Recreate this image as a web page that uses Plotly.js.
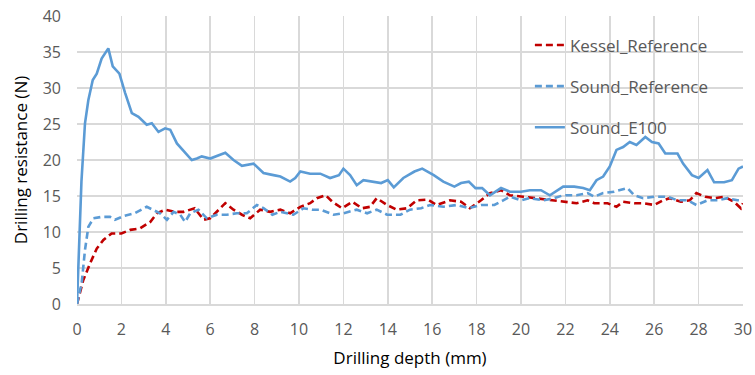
<!DOCTYPE html>
<html><head><meta charset="utf-8">
<script src="https://cdn.plot.ly/plotly-3.0.1.min.js"></script>
<style>html,body{margin:0;padding:0;background:#fff}#chart{width:755px;height:375px}</style>
</head><body><div id="chart"></div>
<script>
const seriesNames = ["Kessel_Reference", "Sound_Reference", "Sound_E100"];

const kesselX = [0,0.28,0.59,0.89,1.19,1.56,2.0,2.4,2.84,3.3,3.6,3.97,4.42,4.8,5.3,5.7,6.0,6.3,6.68,7.05,7.43,7.8,8.25,8.7,9.16,9.6,10.06,10.5,10.8,11.2,11.5,11.94,12.4,12.84,13.2,13.5,13.97,14.4,14.87,15.3,15.5,15.8,16.2,16.8,17.3,17.7,18.2,18.6,19.1,19.5,20.1,20.7,21.3,21.9,22.5,23.0,23.3,23.9,24.3,24.6,25.1,25.5,26.0,26.4,26.7,27.2,27.6,27.9,28.3,28.7,29.15,29.6,29.9,30];
const kesselY = [0,3.3,5.65,7.7,8.9,9.8,9.8,10.3,10.5,11.4,12.6,13.1,12.8,12.8,13.3,11.7,11.9,12.8,14.0,13.1,12.4,11.9,13.1,12.8,13.1,12.6,13.5,14.0,14.7,15.1,14.2,13.3,14.2,13.3,13.5,14.7,13.75,13.1,13.3,14.4,14.4,14.5,13.75,14.4,14.2,13.3,14.4,15.4,15.8,15.1,14.9,14.7,14.4,14.2,14.0,14.4,14.0,14.0,13.5,14.2,14.0,14.0,13.75,14.4,14.7,14.2,14.4,15.4,14.9,14.7,14.9,14.2,13.3,14.0];

const soundRefX = [0,0.21,0.36,0.51,0.74,1.11,1.49,1.71,2.09,2.6,3.14,3.44,3.74,4.05,4.35,4.65,4.87,5.1,5.47,5.85,6.3,6.75,7.2,7.65,8.1,8.4,8.8,9.16,9.75,10.2,10.6,10.96,11.56,12.0,12.6,13.07,13.5,13.97,14.57,15.0,15.5,15.9,16.5,17.1,17.65,18.2,18.8,19.2,19.5,20.0,20.4,21.0,21.5,21.9,22.5,23.0,23.3,23.7,24.2,24.8,25.1,25.5,26.0,26.6,27.05,27.5,27.9,28.4,28.85,29.3,29.75,30];
const soundRefY = [0,2.9,7.5,10.7,11.9,12.1,12.1,11.7,12.2,12.6,13.5,13.1,12.6,11.7,12.8,12.4,11.4,12.6,13.1,11.9,12.4,12.4,12.6,12.6,13.75,13.3,12.4,12.8,12.4,13.3,13.1,13.1,12.4,12.6,13.1,12.6,13.1,12.4,12.4,13.1,13.3,13.75,13.5,13.75,13.3,13.75,13.75,14.4,14.9,14.4,14.7,14.4,14.7,15.1,15.1,15.4,14.9,15.4,15.6,16.1,15.1,14.7,14.9,14.9,14.4,14.4,13.75,14.4,14.4,14.7,14.4,14.4];

const e100X = [0,0.2,0.36,0.51,0.71,0.89,1.11,1.41,1.61,1.91,2.17,2.47,2.77,3.14,3.37,3.67,3.97,4.2,4.5,4.8,5.17,5.4,5.62,6.0,6.38,6.68,7.05,7.43,7.95,8.4,8.85,9.16,9.6,9.83,10.06,10.5,10.96,11.4,11.8,12.0,12.3,12.6,12.9,13.4,13.7,14.0,14.27,14.7,15.2,15.55,16.07,16.5,17.0,17.3,17.65,17.95,18.25,18.6,19.1,19.5,20.0,20.4,20.9,21.3,21.9,22.4,22.8,23.1,23.4,23.7,24.0,24.3,24.6,24.9,25.2,25.6,25.9,26.2,26.5,27.05,27.3,27.7,28.0,28.4,28.7,29.15,29.5,29.8,30];
const e100Y = [0,17,25.1,28.3,31.1,32.0,34.1,35.5,33.0,32.0,29.3,26.5,26.0,24.9,25.1,23.9,24.4,24.2,22.3,21.2,20.0,20.2,20.5,20.2,20.7,21.0,20.0,19.2,19.5,18.2,17.9,17.7,17.0,17.5,18.4,18.1,18.1,17.5,17.9,18.8,17.9,16.5,17.2,17.0,16.8,17.2,16.2,17.5,18.4,18.8,17.9,17.0,16.3,16.8,17.0,16.1,16.1,15.1,16.1,15.6,15.6,15.8,15.8,15.1,16.3,16.3,16.1,15.8,17.2,17.7,19.1,21.4,21.8,22.5,22.1,23.2,22.5,22.3,20.9,20.9,19.5,17.9,17.5,18.6,16.9,16.9,17.2,18.8,19.1];

const xTicks = [0,2,4,6,8,10,12,14,16,18,20,22,24,26,28,30];
const yTicks = [0,5,10,15,20,25,30,35,40];

const traces = [
  {x: kesselX, y: kesselY, name: seriesNames[0], legendgroup: "a", mode: "lines",
   line: {color: "#c00000", width: 2.6, dash: "7px,4px"}},
  {x: soundRefX, y: soundRefY, name: seriesNames[1], legendgroup: "b", mode: "lines",
   line: {color: "#5b9bd5", width: 2.6, dash: "7px,4px"}},
  {x: e100X, y: e100Y, name: seriesNames[2], legendgroup: "c", mode: "lines",
   line: {color: "#5b9bd5", width: 2.6}}
];

const layout = {
  width: 755, height: 375,
  margin: {l: 77, r: 12, t: 16, b: 71},
  paper_bgcolor: "#fff", plot_bgcolor: "#fff",
  font: {family: "'Open Sans', sans-serif", color: "#595959", size: 16},
  showlegend: true,
  legend: {x: 0.68, y: 0.96, xanchor: "left", yanchor: "top", bgcolor: "rgba(0,0,0,0)",
           font: {size: 17, color: "#595959"}, tracegroupgap: 16, traceorder: "grouped"},
  xaxis: {range: [0, 30], tickvals: xTicks, ticktext: xTicks.map(String),
          showgrid: true, gridcolor: "#d9d9d9", gridwidth: 1.5, zeroline: false,
          showline: true, linecolor: "#d9d9d9", linewidth: 1.5, ticks: "",
          ticklabelstandoff: 10,
          tickfont: {size: 16, color: "#595959"},
          title: {text: "Drilling depth (mm)", font: {size: 17, color: "#000"}, standoff: 13}},
  yaxis: {range: [0, 40], tickvals: yTicks, ticktext: yTicks.map(String),
          showgrid: true, gridcolor: "#d9d9d9", gridwidth: 1.5, zeroline: false,
          showline: false, ticks: "", ticklabelstandoff: 15,
          tickfont: {size: 16, color: "#595959"},
          title: {text: "Drilling resistance (N)", font: {size: 17, color: "#000"}, standoff: 10}}
};

Plotly.newPlot("chart", traces, layout, {displayModeBar: false, staticPlot: true});
</script></body></html>
